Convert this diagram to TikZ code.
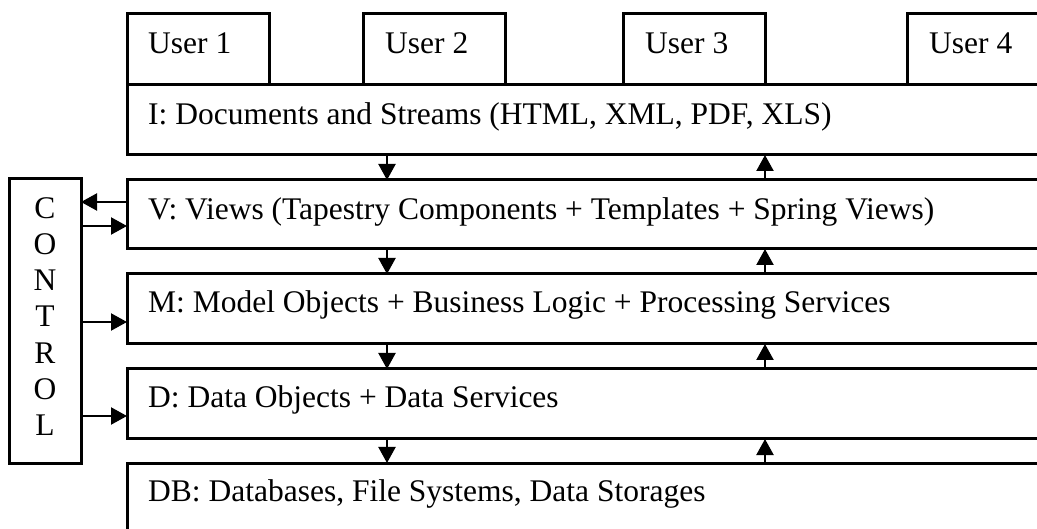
\documentclass[tikz,border=0pt]{standalone}
\usepackage{fontspec}
\setmainfont{Liberation Serif}
\usetikzlibrary{arrows.meta}
\begin{document}
\begin{tikzpicture}[x=1pt,y=-1pt,
  box/.style={draw,line width=3pt,outer sep=0pt,inner sep=0pt,anchor=north west},
  txt/.style={inner sep=0pt,anchor=base west,font=\fontsize{31.5}{36.3}\selectfont},
  arr/.style={line width=2.2pt,-{Triangle[width=17pt,length=16pt]}}]
\useasboundingbox (0,0) rectangle (1037,529);
\clip (0,0) rectangle (1037,529);
% user boxes
\node[box,minimum width=142,minimum height=71] (u1) at (127,14) {};
\node[box,minimum width=142,minimum height=71] (u2) at (363,14) {};
\node[box,minimum width=142,minimum height=71] (u3) at (623,14) {};
\node[box,minimum width=142,minimum height=71] (u4) at (907,14) {};
\node[txt] (t1) at (148,54) {User 1};
\node[txt] (t2) at (385,54) {User 2};
\node[txt] (t3) at (645,54) {User 3};
\node[txt] (t4) at (929,54) {User 4};
% layers
\node[box,minimum width=940,minimum height=70] (I) at (127,85) {};
\node[box,minimum width=940,minimum height=69] (V) at (127,180) {};
\node[box,minimum width=940,minimum height=70] (M) at (127,274) {};
\node[box,minimum width=940,minimum height=70] (D) at (127,369) {};
\node[box,minimum width=940,minimum height=90] (DB) at (127,463) {};
\node[txt] (tI) at (148,125) {I: Documents and Streams (HTML, XML, PDF, XLS)};
\node[txt] (tV) at (148,220) {V: Views (Tapestry Components + Templates + Spring Views)};
\node[txt] (tM) at (148,313) {M: Model Objects + Business Logic + Processing Services};
\node[txt] (tD) at (148,408) {D: Data Objects + Data Services};
\node[txt] (tDB) at (148,501) {DB: Databases, File Systems, Data Storages};
% control
\node[box,minimum width=72,minimum height=284] (C) at (9,179) {};
\node[inner sep=0pt,anchor=north,align=center,font=\fontsize{31.5}{36.3}\selectfont] (tC) at (45,197) {C\\O\\N\\T\\R\\O\\L};
% arrow columns
\coordinate (dx) at (387,0);
\coordinate (ux) at (765,0);
\draw[arr] (I.south -| dx) -- (V.north -| dx);
\draw[arr] (V.north -| ux) -- (I.south -| ux);
\draw[arr] (V.south -| dx) -- (M.north -| dx);
\draw[arr] (M.north -| ux) -- (V.south -| ux);
\draw[arr] (M.south -| dx) -- (D.north -| dx);
\draw[arr] (D.north -| ux) -- (M.south -| ux);
\draw[arr] (D.south -| dx) -- (DB.north -| dx);
\draw[arr] (DB.north -| ux) -- (D.south -| ux);
% control arrows
\coordinate (y1) at (0,202);
\coordinate (y2) at (0,226);
\coordinate (y3) at (0,322);
\coordinate (y4) at (0,416);
\draw[arr] (V.west |- y1) -- (C.east |- y1);
\draw[arr] (C.east |- y2) -- (V.west |- y2);
\draw[arr] (C.east |- y3) -- (M.west |- y3);
\draw[arr] (C.east |- y4) -- (D.west |- y4);
\end{tikzpicture}
\end{document}
